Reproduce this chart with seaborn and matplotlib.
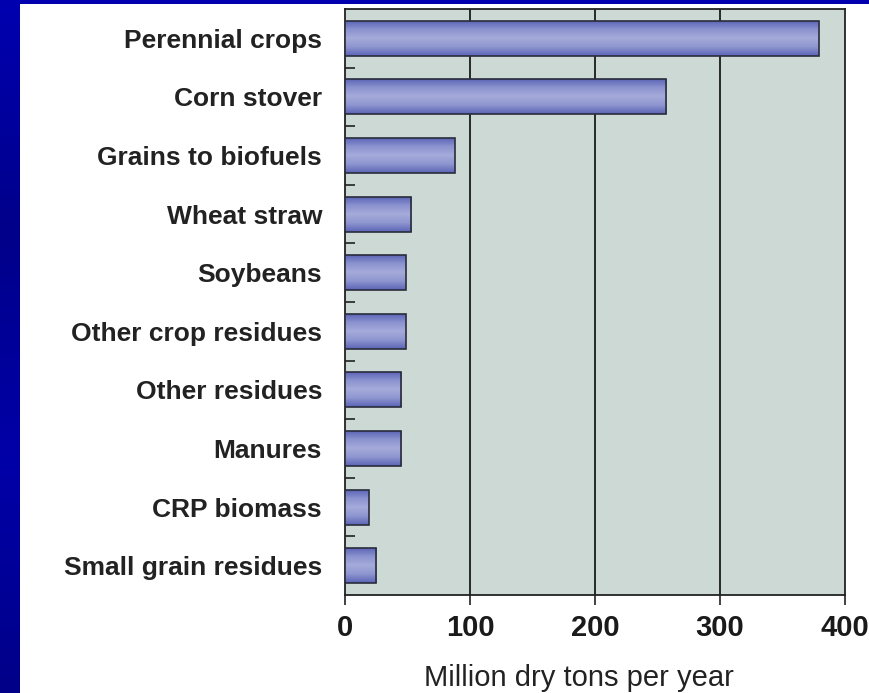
import numpy as np
import pandas as pd
import matplotlib
matplotlib.use("Agg")
import matplotlib.pyplot as plt
import seaborn as sns
from matplotlib import font_manager
from matplotlib.colors import LinearSegmentedColormap
from matplotlib.patches import Rectangle

categories = ["Perennial crops", "Corn stover", "Grains to biofuels", "Wheat straw",
              "Soybeans", "Other crop residues", "Other residues", "Manures",
              "CRP biomass", "Small grain residues"]
values = [379, 257, 88, 53, 48.5, 48.5, 45, 45, 19, 25]
x_ticks = [0, 100, 200, 300, 400]
x_label = "Million dry tons per year"

df = pd.DataFrame({"source": categories, "tons": values})

sns.set_theme(style="white")
plt.rcParams["font.family"] = ["Liberation Sans", "DejaVu Sans"]

names = {f.name for f in font_manager.fontManager.ttflist}
narrow = "Liberation Sans Narrow" if "Liberation Sans Narrow" in names else "Liberation Sans"

fig = plt.figure(figsize=(8.69, 6.93), dpi=100)
fig.patch.set_facecolor("#000099")
# blue gradient strip (left + top) and white slide body
bg = fig.add_axes([0, 0, 1, 1], zorder=-10)
bg.axis("off")
grad = np.linspace(0, 1, 256).reshape(-1, 1)
bg.imshow(grad, aspect="auto", extent=[0, 1, 0, 1],
          cmap=LinearSegmentedColormap.from_list("b", ["#0000b0", "#00008a", "#0000a8", "#000088"]))
bg.set_xlim(0, 1); bg.set_ylim(0, 1)
bg.add_patch(Rectangle((20 / 869, 0), 1, (693 - 3.5) / 693, facecolor="white", edgecolor="none", zorder=5))

ax = fig.add_axes([345 / 869, (693 - 595) / 693, 500 / 869, 586 / 693])
ax.set_facecolor("#ccd9d5")

sns.barplot(data=df, x="tons", y="source", ax=ax, width=0.6, color="#8890cc",
            edgecolor="#2a2c3c", linewidth=1.2, zorder=3)

# vertical gradient fill on each bar
cmap = LinearSegmentedColormap.from_list("bar", ["#5861b4", "#8a92cf", "#a5abd9", "#8f96d0", "#5c65b6"])
gimg = np.linspace(0, 1, 64).reshape(-1, 1)
for p in ax.patches:
    x0, y0 = p.get_x(), p.get_y()
    w, h = p.get_width(), p.get_height()
    im = ax.imshow(gimg, aspect="auto", cmap=cmap, extent=[x0, x0 + w, y0 + h, y0],
                   zorder=3.5, interpolation="bilinear")
    im.set_clip_path(p)
    p.set_facecolor("none")
    p.set_zorder(4)

ax.set_xlim(0, 400)
ax.set_ylim(len(categories) - 0.5, -0.5)
ax.set_aspect("auto")

for xv in x_ticks[1:-1]:
    ax.axvline(xv, color="#1a1a1a", lw=1.3, zorder=1)

ax.set_xticks(x_ticks)
ax.set_xticklabels([str(t) for t in x_ticks], fontsize=21, fontweight="bold",
                   family=[narrow, "DejaVu Sans"], color="#1a1a1a")
ax.tick_params(axis="x", which="major", direction="out", length=7.5, width=1.2,
               color="#222222", pad=6, bottom=True)

ax.set_yticks(range(len(categories)))
ax.set_yticklabels(categories, fontsize=19, fontweight="bold", color="#222222")
ax.tick_params(axis="y", which="major", length=0, pad=16.5, left=False)
ax.set_yticks([i + 0.5 for i in range(len(categories) - 1)], minor=True)
ax.tick_params(axis="y", which="minor", direction="in", length=7, width=1.2,
               color="#222222", left=True)

ax.set_ylabel("")
ax.set_xlabel(x_label, fontsize=21, color="#222222")
ax.xaxis.set_label_coords(0.468, -0.141)
ax.xaxis.label.set_va("center")

for s in ax.spines.values():
    s.set_visible(True)
    s.set_color("#222222")
    s.set_linewidth(1.3)

fig.savefig("out.png", dpi=100, facecolor=fig.get_facecolor())
